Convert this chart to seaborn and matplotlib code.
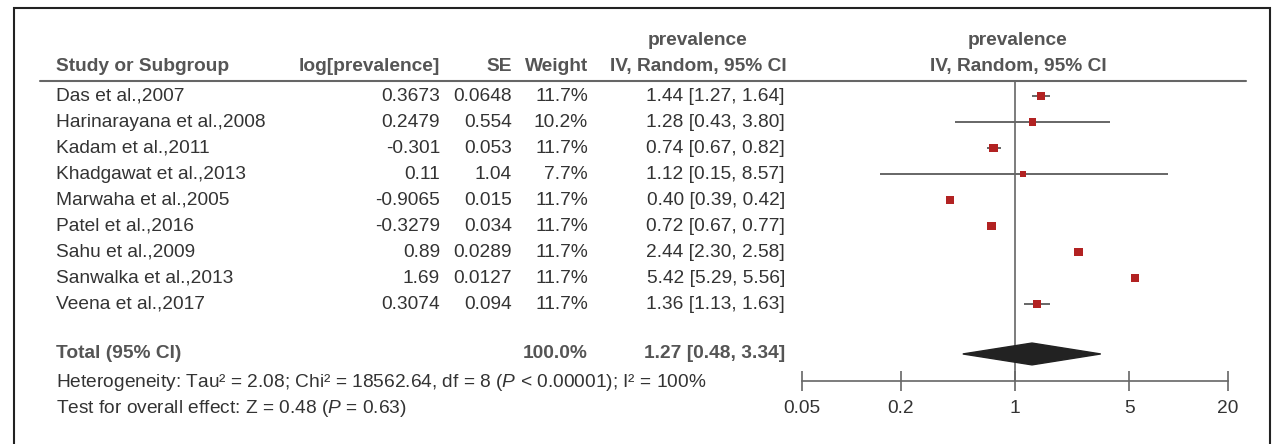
import matplotlib
matplotlib.use("Agg")
import matplotlib.pyplot as plt
import matplotlib.transforms as mtransforms
from matplotlib.patches import Polygon, Rectangle
from matplotlib.lines import Line2D
import seaborn as sns
import pandas as pd

# data
studies = ["Das et al.,2007", "Harinarayana et al.,2008", "Kadam et al.,2011",
           "Khadgawat et al.,2013", "Marwaha et al.,2005", "Patel et al.,2016",
           "Sahu et al.,2009", "Sanwalka et al.,2013", "Veena et al.,2017"]
log_prev = ["0.3673", "0.2479", "-0.301", "0.11", "-0.9065", "-0.3279", "0.89", "1.69", "0.3074"]
se = ["0.0648", "0.554", "0.053", "1.04", "0.015", "0.034", "0.0289", "0.0127", "0.094"]
weight = [11.7, 10.2, 11.7, 7.7, 11.7, 11.7, 11.7, 11.7, 11.7]
est = [1.44, 1.28, 0.74, 1.12, 0.40, 0.72, 2.44, 5.42, 1.36]
ci_low = [1.27, 0.43, 0.67, 0.15, 0.39, 0.67, 2.30, 5.29, 1.13]
ci_high = [1.64, 3.80, 0.82, 8.57, 0.42, 0.77, 2.58, 5.56, 1.63]
total_est, total_low, total_high = 1.27, 0.48, 3.34
total_weight = 100.0
x_ticks = [0.05, 0.2, 1, 5, 20]
heterogeneity = "Heterogeneity: Tau² = 2.08; Chi² = 18562.64, df = 8 ($\\it{P}$ < 0.00001); I² = 100%"
overall = "Test for overall effect: Z = 0.48 ($\\it{P}$ = 0.63)"

sns.set_theme(style="white")
plt.rcParams['font.family'] = ['Liberation Sans', 'DejaVu Sans']
plt.rcParams['mathtext.fontset'] = 'custom'
plt.rcParams['mathtext.rm'] = 'Liberation Sans'
plt.rcParams['mathtext.it'] = 'Liberation Sans:italic'

W, H = 1274, 444
TXT = "#333333"
HEAD = "#555555"
LINE = "#666666"
RED = "#b22222"
FS = 13.8

df = pd.DataFrame({"study": studies, "est": est, "lo": ci_low, "hi": ci_high,
                   "weight": weight})
df["row"] = range(len(df))
total_row = 9.92

fig = plt.figure(figsize=(W / 100, H / 100), dpi=100)

def fx(px):
    return px / W

def fy(px):
    return 1 - px / H

# forest panel
ax = fig.add_axes([fx(802), fy(381), fx(1228) - fx(802), fy(81) - fy(381)])
ax.set_xscale("log")
ax.set_xlim(0.05, 20)
ax.set_ylim(10.96, -0.58)
ax.patch.set_alpha(0)

ax.axvline(1, color=LINE, lw=1.2, zorder=1)
ax.hlines(df["row"], df["lo"], df["hi"], color=LINE, lw=1.4, zorder=2)
sns.scatterplot(data=df, x="est", y="row", size="weight", sizes=(18, 38),
                marker="s", color=RED, edgecolor="none", legend=False,
                ax=ax, zorder=3)
ax.add_patch(Polygon([(total_low, total_row), (total_est, total_row - 0.42),
                      (total_high, total_row), (total_est, total_row + 0.42)],
                     closed=True, color="#222222", zorder=3))

for side in ["top", "left", "right"]:
    ax.spines[side].set_visible(False)
ax.spines["bottom"].set_color(LINE)
ax.spines["bottom"].set_linewidth(1.2)
ax.set_xticks(x_ticks)
ax.set_xticklabels([f"{t:g}" for t in x_ticks])
ax.minorticks_off()
ax.set_yticks([])
ax.set_xlabel("")
ax.set_ylabel("")
ax.tick_params(axis="x", direction="inout", length=15, width=1.2, color=LINE,
               labelsize=FS, labelcolor=TXT, pad=6)
ax.tick_params(axis="x", which="major", bottom=True)

# table text: x in figure fraction, y in row units
tr = mtransforms.blended_transform_factory(fig.transFigure, ax.transData)

def put(xpx, y, s, ha="left", bold=False, color=TXT):
    ax.text(fx(xpx), y, s, transform=tr, ha=ha, va="center", fontsize=FS,
            fontweight="bold" if bold else "normal", color=color, clip_on=False)

put(56, -1.12, "Study or Subgroup", bold=True, color=HEAD)
put(440, -1.12, "log[prevalence]", ha="right", bold=True, color=HEAD)
put(512, -1.12, "SE", ha="right", bold=True, color=HEAD)
put(588, -1.12, "Weight", ha="right", bold=True, color=HEAD)
put(698, -2.15, "prevalence", ha="center", bold=True, color=HEAD)
put(698, -1.12, "IV, Random, 95% CI", ha="center", bold=True, color=HEAD)
put(1018, -2.15, "prevalence", ha="center", bold=True, color=HEAD)
put(1018, -1.12, "IV, Random, 95% CI", ha="center", bold=True, color=HEAD)

for i, name in enumerate(studies):
    put(56, i, name)
    put(440, i, log_prev[i], ha="right")
    put(512, i, se[i], ha="right")
    put(588, i, f"{weight[i]:.1f}%", ha="right")
    put(785, i, f"{est[i]:.2f} [{ci_low[i]:.2f}, {ci_high[i]:.2f}]", ha="right")

put(56, total_row, "Total (95% CI)", bold=True, color=HEAD)
put(588, total_row, f"{total_weight:.1f}%", ha="right", bold=True, color=HEAD)
put(785, total_row, f"{total_est:.2f} [{total_low:.2f}, {total_high:.2f}]",
    ha="right", bold=True, color=HEAD)
put(56, 11.0, heterogeneity)
put(56, 12.0, overall)

# header rule and outer frame
fig.add_artist(Line2D([fx(40), fx(1246)], [fy(81), fy(81)], color=LINE, lw=1.5))
fig.add_artist(Rectangle((fx(14), fy(460)), fx(1270) - fx(14), fy(8) - fy(460),
                         fill=False, edgecolor="#222222", lw=1.5,
                         transform=fig.transFigure))

fig.savefig("out.png", dpi=100, facecolor="white")
